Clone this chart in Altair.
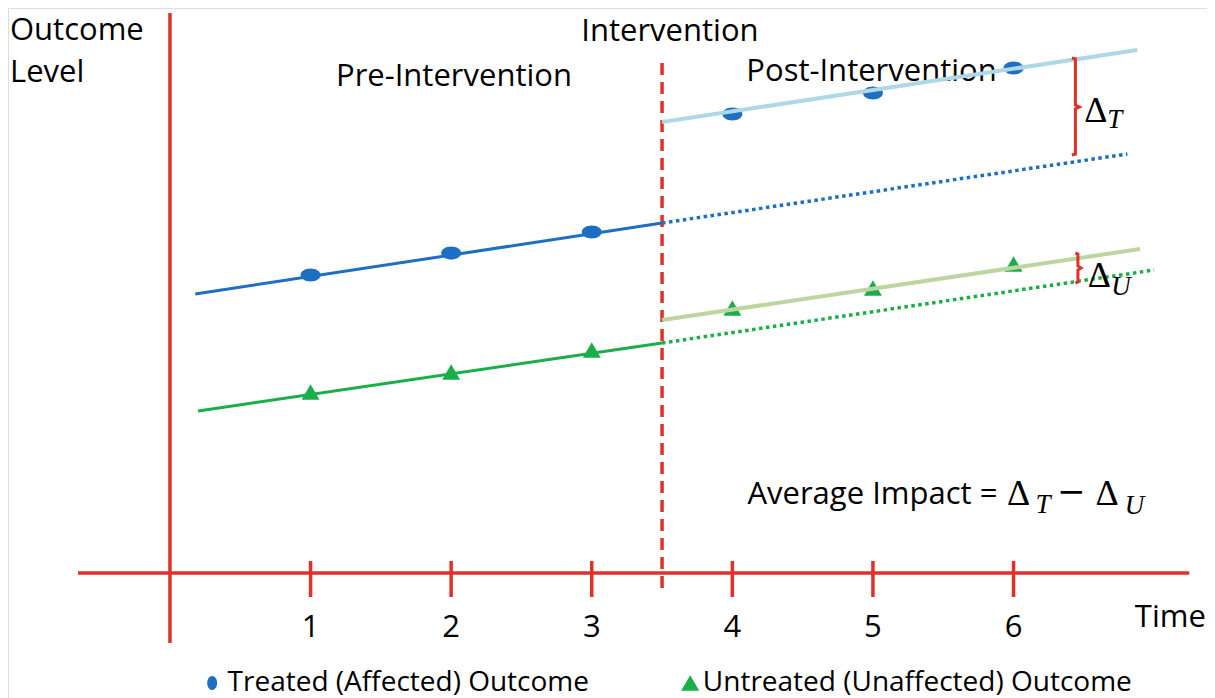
import altair as alt
import pandas as pd

# ---------------- data ----------------
times = [1, 2, 3, 4, 5, 6]
treated = [2.98, 3.20, 3.41, 4.59, 4.80, 5.05]
untreated = [1.81, 2.01, 2.23, 2.65, 2.85, 3.09]

# trend lines: x, y, x2, y2
solid_blue = [(0.18, 2.79, 3.5, 3.50)]
dotted_blue = [(3.5, 3.50, 6.81, 4.19)]
light_blue = [(3.5, 4.51, 6.88, 5.23)]
solid_green = [(0.20, 1.62, 3.5, 2.30)]
dotted_green = [(3.5, 2.30, 7.00, 3.03)]
light_green = [(3.5, 2.53, 6.90, 3.24)]

# axes frame
axis_h = [(-0.654, 0.0, 7.25, 0.0)]
axis_v = [(0.0, -0.70, 0.0, 5.60)]
tick_vals = [1, 2, 3, 4, 5, 6]
tick_lo, tick_hi = -0.24, 0.12
intervention_x = 3.5
interv_lo, interv_hi = -0.15, 5.15

# braces (x, y, order)
brace_t = [(6.415, 5.15), (6.44, 5.14), (6.44, 4.68), (6.468, 4.66),
           (6.44, 4.64), (6.44, 4.19), (6.415, 4.18)]
brace_u = [(6.44, 3.20), (6.458, 3.19), (6.458, 3.07), (6.48, 3.05),
           (6.458, 3.03), (6.458, 2.91), (6.44, 2.90)]

RED = "#E03128"
BLUE = "#1C6FC2"
LBLUE = "#AED8E6"
GREEN = "#1AAE4A"
LGREEN = "#BDD59E"
SANS = "Open Sans"
SERIF = "Liberation Serif"
FS = 31

xs = alt.Scale(domain=[-1.152, 7.376], nice=False, zero=False)
ys = alt.Scale(domain=[-1.25, 5.65], nice=False, zero=False)


def seg_layer(segs, color, width, dash=None):
    df = pd.DataFrame(segs, columns=["x", "y", "x2", "y2"])
    kw = dict(color=color, strokeWidth=width)
    if dash is not None:
        kw["strokeDash"] = dash
    return alt.Chart(df).mark_rule(**kw).encode(
        x=alt.X("x:Q", scale=xs, axis=None),
        y=alt.Y("y:Q", scale=ys, axis=None),
        x2="x2:Q", y2="y2:Q")


def brace_layer(pts):
    df = pd.DataFrame([(x, y, i) for i, (x, y) in enumerate(pts)], columns=["x", "y", "o"])
    return alt.Chart(df).mark_line(color=RED, strokeWidth=3).encode(
        x=alt.X("x:Q", scale=xs, axis=None),
        y=alt.Y("y:Q", scale=ys, axis=None),
        order="o:Q")


def text_layer(rows, font=SANS, size=FS, align="left", style="normal", color="black"):
    df = pd.DataFrame(rows, columns=["x", "y", "t"])
    return alt.Chart(df).mark_text(font=font, fontSize=size, align=align, baseline="middle",
                                   fontStyle=style, color=color).encode(
        x=alt.X("x:Q", scale=xs, axis=None),
        y=alt.Y("y:Q", scale=ys, axis=None),
        text="t:N")


ellipse = "M-1,0 A1,0.65 0 1,1 1,0 A1,0.65 0 1,1 -1,0 Z"
ellipse_v = "M0,-1 A0.7,1 0 1,1 0,1 A0.7,1 0 1,1 0,-1 Z"

pts_t = pd.DataFrame({"x": times, "y": treated})
pts_u = pd.DataFrame({"x": times, "y": untreated})


def point_layer(df, shape, color, size):
    return alt.Chart(df).mark_point(shape=shape, filled=True, color=color, size=size, opacity=1).encode(
        x=alt.X("x:Q", scale=xs, axis=None),
        y=alt.Y("y:Q", scale=ys, axis=None))


ticks = [(t, tick_lo, t, tick_hi) for t in tick_vals]
interv = [(intervention_x, interv_lo, intervention_x, interv_hi)]

labels_main = [
    (-1.138, 5.42, "Outcome"),
    (-1.138, 5.00, "Level"),
]
labels_center = [
    (3.556, 5.41, "Intervention"),
    (2.02, 4.96, "Pre-Intervention"),
] + [(t, -0.55, str(t)) for t in tick_vals]
labels_right = [(5.885, 0.78, "Average Impact ="), (7.368, -0.45, "Time")]
deltas = [(6.586, 4.62, "Δ"), (6.61, 2.97, "Δ"), (6.035, 0.79, "Δ"), (6.665, 0.79, "Δ")]
subs = [(6.72, 4.53, "T"), (6.765, 2.86, "U"), (6.21, 0.68, "T"), (6.86, 0.67, "U")]
minus = [(6.41, 0.80, "−")]

legend_x = [0.30, 3.70]
legend_y = -1.10
legend_text = [(0.41, legend_y, "Treated (Affected) Outcome"),
               (3.79, legend_y, "Untreated (Unaffected) Outcome")]

layers = [
    text_layer([(4.99, 5.01, "Post-Intervention")], align="center"),
    seg_layer(axis_h, RED, 3.5),
    seg_layer(axis_v, RED, 3.5),
    seg_layer(ticks, RED, 3.5),
    seg_layer(interv, RED, 3.5, [12, 7]),
    seg_layer(solid_blue, BLUE, 3),
    seg_layer(dotted_blue, BLUE, 3.5, [3.5, 3.5]),
    seg_layer(solid_green, GREEN, 3),
    seg_layer(dotted_green, GREEN, 3.5, [3.5, 3.5]),
    point_layer(pts_t, ellipse, BLUE, 400),
    point_layer(pts_u, "triangle-up", GREEN, 320),
    seg_layer(light_blue, LBLUE, 4),
    seg_layer(light_green, LGREEN, 4),
    brace_layer(brace_t),
    brace_layer(brace_u),
    text_layer(labels_main, align="left"),
    text_layer(labels_center, align="center"),
    text_layer(labels_right, align="right"),
    text_layer(deltas, font=SERIF, size=36, align="center"),
    text_layer(subs, font=SERIF, size=27, align="center", style="italic"),
    text_layer(minus, font="DejaVu Sans", size=34, align="center"),
    point_layer(pd.DataFrame({"x": [legend_x[0]], "y": [legend_y]}), ellipse_v, BLUE, 200),
    point_layer(pd.DataFrame({"x": [legend_x[1]], "y": [legend_y]}), "triangle-up", GREEN, 330),
    text_layer(legend_text, font=SANS, size=28, align="left"),
]

chart = alt.layer(*layers).properties(
    width=1199, height=690, autosize="none", padding=0
).configure_view(strokeWidth=0).configure(background="white")

chart.save("out.html", embed_options={"renderer": "svg", "actions": False})
